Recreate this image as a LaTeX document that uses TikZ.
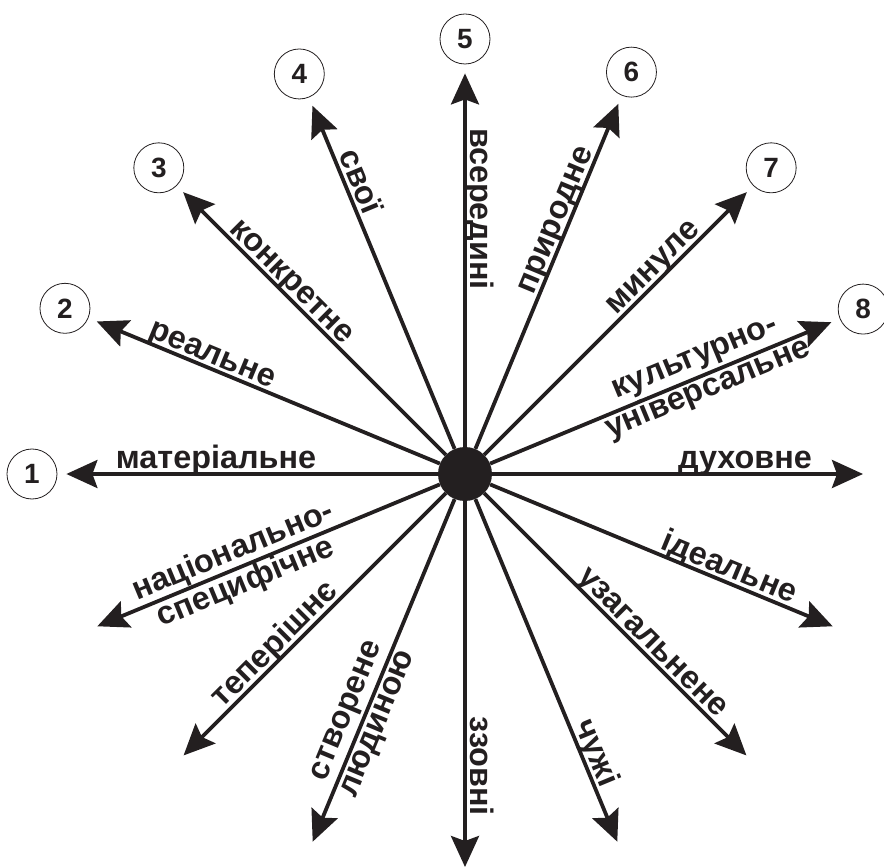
\documentclass[tikz,border=0pt]{standalone}
\usepackage{fontspec}
\setmainfont{Liberation Sans}
\usepackage{tikz}
\usetikzlibrary{arrows.meta}
\definecolor{ink}{HTML}{231F20}

\begin{document}
\begin{tikzpicture}[
    x=1bp, y=1bp,
    arr/.style={line width=3.8bp, draw=ink, -{Stealth[length=31bp, width=28bp, inset=5bp]}},
    num/.style={circle, draw=ink, line width=0.8bp, minimum size=50bp, inner sep=0pt, font=\fontsize{28}{30}\selectfont\bfseries, text=ink},
    lbl/.style={font=\fontsize{32.5}{30}\selectfont\bfseries, text=ink, inner sep=0pt, text depth=5bp, anchor=south},
    lbl2/.style={font=\fontsize{32.5}{34}\selectfont\bfseries, text=ink, inner sep=0pt, align=center, anchor=center}
  ]
    \useasboundingbox (-465,-393) rectangle (419,474);
    % Centre
    \node[circle, fill=ink, minimum size=54bp, inner sep=0pt] (hub) at (0,0) {};
    % Numbered ends
    \node[num] (n1) at (180:433) {1};
    \node[num] (n2) at (157.5:433) {2};
    \node[num] (n3) at (135:433) {3};
    \node[num] (n4) at (112.5:433) {4};
    \node[num] (n5) at (90:435) {5};
    \node[num] (n6) at (67.5:435) {6};
    \node[num] (n7) at (45:433) {7};
    \node[num] (n8) at (22.5:431) {8};
    % Free ends
    \coordinate (e9) at (0:398);
    \coordinate (e10) at (-22.5:398);
    \coordinate (e11) at (-45:398);
    \coordinate (e12) at (-67.5:398);
    \coordinate (e13) at (-90:393);
    \coordinate (e14) at (-112.5:398);
    \coordinate (e15) at (-135:398);
    \coordinate (e16) at (-157.5:398);
    % Arrows
    \draw[arr, shorten >=9bp] (hub) -- (n1);
    \draw[arr, shorten >=9bp] (hub) -- (n2);
    \draw[arr, shorten >=9bp] (hub) -- (n3);
    \draw[arr, shorten >=9bp] (hub) -- (n4);
    \draw[arr, shorten >=9bp] (hub) -- (n5);
    \draw[arr, shorten >=9bp] (hub) -- (n6);
    \draw[arr, shorten >=9bp] (hub) -- (n7);
    \draw[arr, shorten >=9bp] (hub) -- (n8);
    \draw[arr] (hub) -- (e9);
    \draw[arr] (hub) -- (e10);
    \draw[arr] (hub) -- (e11);
    \draw[arr] (hub) -- (e12);
    \draw[arr] (hub) -- (e13);
    \draw[arr] (hub) -- (e14);
    \draw[arr] (hub) -- (e15);
    \draw[arr] (hub) -- (e16);
    % Labels
    \node[lbl] (l1) at (180:249) {матеріальне};
    \node[lbl, rotate=-22.5] (l2) at (157.5:279) {реальне};
    \node[lbl, rotate=-45] (l3) at (135:258) {конкретне};
    \node[lbl, rotate=-67.5] (l4) at (112.5:310) {свої};
    \node[lbl, rotate=-90] (l5) at (90:265) {всередині};
    \node[lbl, rotate=67.5] (l6) at (67.5:269) {природне};
    \node[lbl, rotate=45] (l7) at (45:279) {минуле};
    \node[lbl2, rotate=22.5] (l8) at (22.5:257) {культурно-\\універсальне};
    \node[lbl] (l9) at (0:280) {духовне};
    \node[lbl, rotate=-22.5] (l10) at (-22.5:280) {ідеальне};
    \node[lbl, rotate=-45] (l11) at (-45:252) {узагальнене};
    \node[lbl, rotate=-67.5] (l12) at (-67.5:308) {чужі};
    \node[lbl, rotate=-90] (l13) at (-90:292) {ззовні};
    \node[lbl2, rotate=67.5] (l14) at (-112.5:264) {створене\\людиною};
    \node[lbl, rotate=45] (l15) at (-135:255) {теперішнє};
    \node[lbl2, rotate=22.5] (l16) at (-157.5:244) {національно-\\специфічне};
\end{tikzpicture}
\end{document}
